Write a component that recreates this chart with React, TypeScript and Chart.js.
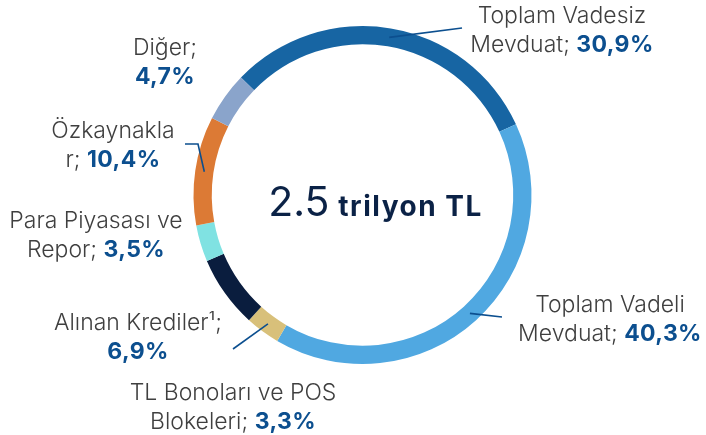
import React, { useEffect, useRef } from "react";
import { Chart, registerables } from "chart.js";

Chart.register(...registerables);

// ---- data ----
const categories = [
  "Toplam Vadesiz Mevduat",
  "Toplam Vadeli Mevduat",
  "TL Bonoları ve POS Blokeleri",
  "Alınan Krediler¹",
  "Para Piyasası ve Repor",
  "Özkaynaklar",
  "Diğer",
];
const shares = [30.9, 40.3, 3.3, 6.9, 3.5, 10.4, 4.7];
const labelLine1 = [
  "Toplam Vadesiz",
  "Toplam Vadeli",
  "TL Bonoları ve POS",
  "Alınan Krediler¹;",
  "Para Piyasası ve",
  "Özkaynakla",
  "Diğer;",
];
const labelLine2Prefix = ["Mevduat; ", "Mevduat; ", "Blokeleri; ", "", "Repor; ", "r; ", ""];
const centerValue = "2.5";
const centerUnit = "trilyon TL";

// ---- styles / layout ----
const colors = ["#1765a3", "#50a8e1", "#d8c07a", "#0a1d3e", "#80e2e2", "#dc7a35", "#8aa4cb"];
// label anchors (center x, first baseline y) relative to doughnut center
const labelPos: [number, number][] = [
  [199.5, -172],
  [247.5, 117],
  [-129.5, 205],
  [-224.5, 135],
  [-266.5, 33],
  [-249.5, -57],
  [-197.5, -140],
];
// leader line points (relative to doughnut center), starting from arc midpoint
const leaders: ([number, number][] | null)[] = [
  [[99.5, -167]],
  [[139.5, 122]],
  [[-129.5, 154]],
  null,
  null,
  [[-164.5, -51], [-177.5, -51]],
  null,
];

const FONT = "Inter, 'Open Sans', sans-serif";
const GRAY = "#3f3f3f";
const BLUE = "#0c4f8f";
const NAVY = "#0b2246";

const fmt = (v: number) => v.toFixed(1).replace(".", ",") + "%";

const labelPlugin = {
  id: "labelPlugin",
  afterDraw(chart: any) {
    const ctx = chart.ctx as any;
    const meta = chart.getDatasetMeta(0);
    const arc0 = meta.data[0];
    const cx = arc0.x;
    const cy = arc0.y;
    ctx.save();
    // leaders
    ctx.strokeStyle = BLUE;
    ctx.lineWidth = 1.6;
    meta.data.forEach((arc: any, i: number) => {
      const pts = leaders[i];
      if (!pts) return;
      const p = arc.getCenterPoint();
      ctx.beginPath();
      ctx.moveTo(p.x, p.y);
      pts.forEach(([dx, dy]) => ctx.lineTo(cx + dx, cy + dy));
      ctx.stroke();
    });
    // labels
    ctx.textBaseline = "alphabetic";
    ctx.textAlign = "left";
    const normal = `300 23px ${FONT}`;
    const bold = `700 23px ${FONT}`;
    const setN = () => { ctx.font = normal; ctx.letterSpacing = "0px"; };
    const setB = () => { ctx.font = bold; ctx.letterSpacing = "0.4px"; };
    const lh = 28.5;
    categories.forEach((_, i) => {
      const [lx, ly] = labelPos[i];
      const x = cx + lx;
      const y = cy + ly;
      setN();
      ctx.fillStyle = GRAY;
      const w1 = ctx.measureText(labelLine1[i]).width;
      ctx.fillText(labelLine1[i], x - w1 / 2, y);
      const pre = labelLine2Prefix[i];
      const pct = fmt(shares[i]);
      setN();
      const wp = ctx.measureText(pre).width;
      setB();
      const wv = ctx.measureText(pct).width;
      const sx = x - (wp + wv) / 2;
      setN();
      ctx.fillStyle = GRAY;
      ctx.fillText(pre, sx, y + lh);
      setB();
      ctx.fillStyle = BLUE;
      ctx.fillText(pct, sx + wp, y + lh);
    });
    // center text
    ctx.fillStyle = NAVY;
    const fA = `400 41px ${FONT}`;
    const fB = `bold 28px ${FONT}`;
    ctx.font = fA;
    ctx.letterSpacing = "0px";
    const wA = ctx.measureText(centerValue).width;
    ctx.font = fB;
    ctx.letterSpacing = "1.5px";
    const wB = ctx.measureText(centerUnit).width;
    const gap = 9;
    const total = wA + gap + wB;
    const sx = cx + 13 - total / 2;
    ctx.font = fA;
    ctx.letterSpacing = "0px";
    ctx.fillText(centerValue, sx, cy + 21);
    ctx.font = fB;
    ctx.letterSpacing = "1.5px";
    ctx.fillText(centerUnit, sx + wA + gap, cy + 21);
    ctx.restore();
  },
};

export default function App() {
  const ref = useRef<HTMLCanvasElement>(null);
  useEffect(() => {
    if (!ref.current) return;
    const chart = new Chart(ref.current, {
      type: "doughnut",
      data: {
        labels: categories,
        datasets: [
          {
            data: shares,
            backgroundColor: colors,
            borderWidth: 0,
          },
        ],
      },
      options: {
        animation: false,
        responsive: false,
        maintainAspectRatio: false,
        rotation: -46,
        cutout: "89.2%",
        layout: { padding: { left: 193.5, right: 174.5, top: 26, bottom: 71 } },
        plugins: {
          legend: { display: false },
          tooltip: { enabled: false },
        },
      },
      plugins: [labelPlugin],
    });
    return () => chart.destroy();
  }, []);
  return (
    <div style={{ position: "absolute", left: 0, top: 0, width: 706, height: 435, background: "#fff" }}>
      <canvas ref={ref} width={706} height={435} style={{ display: "block" }} />
    </div>
  );
}
